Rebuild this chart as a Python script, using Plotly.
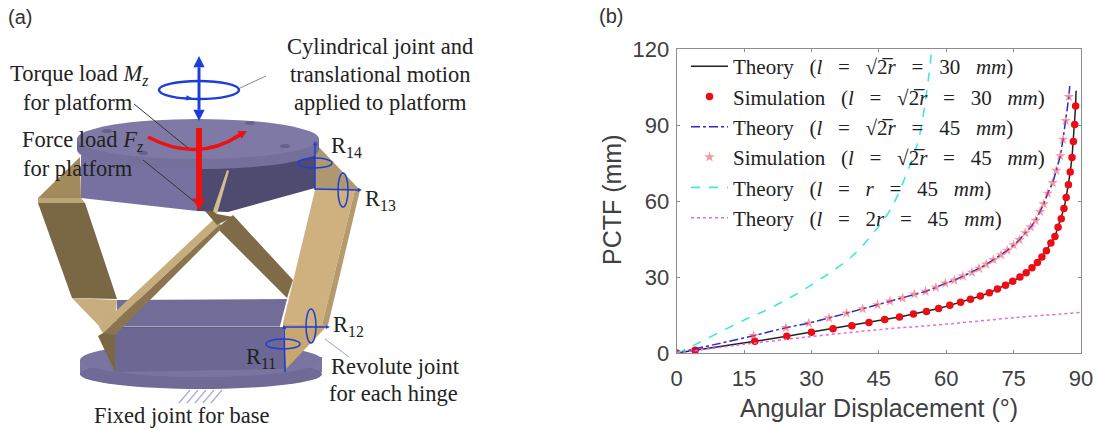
import math
import plotly.graph_objects as go

# panel (b) values
sim30_x = [0, 4.1, 17.4, 24.5, 30, 34.8, 39, 42.8, 46.3, 49.6, 52.7, 55.6, 58.3, 60.8, 63.2, 65.4, 67.6, 69.6,
           71.4, 73.2, 74.8, 76.4, 77.8, 79.1, 80.3, 81.3, 82.3, 83.3, 84.2, 84.9, 85.6, 86.2, 86.7, 87.2, 87.6,
           88, 88.3, 88.6, 88.8]
sim30_y = [0, 1.05, 4.6, 6.6, 8.2, 9.6, 10.8, 12, 13.2, 14.2, 15.4, 16.4, 17.6, 18.8, 20, 21.2, 22.5, 23.8,
           25.3, 26.7, 28.3, 30, 31.7, 33.7, 35.7, 37.9, 40.4, 43.4, 46, 49.6, 53, 57, 61.4, 66.4, 71.4,
           77.2, 83.5, 90.2, 97.5]
theory30_x = sim30_x + [88.9]
theory30_y = sim30_y + [103.5]

sim45_x = [0, 17.1, 24.3, 29.4, 33.9, 37.8, 41.4, 44.7, 47.5, 50.3, 52.9, 55.4, 57.7, 59.8, 61.8, 63.7, 65.7,
           67.3, 68.9, 70.5, 72.2, 73.6, 75, 76.3, 77.6, 78.8, 79.9, 80.9, 81.7, 82.6, 83.7, 84.5, 85.4, 86,
           86.6, 87.3]
sim45_y = [0, 6.8, 10, 11.8, 13.8, 15.7, 17.4, 19, 20.4, 21.7, 23.2, 24.3, 25.9, 27.5, 28.7, 30.3, 31.8,
           33.4, 35, 36.8, 38.7, 40.5, 42.6, 44.7, 47.4, 49.7, 52.3, 55.8, 58.8, 63, 67.2, 72, 77.8, 84.3,
           91.7, 101.2]
theory45_x = sim45_x + [87.5]
theory45_y = sim45_y + [105.4]

equal_x = [0, 2.6, 6.3, 15.6, 19.3, 26, 32.7, 38.6, 43, 47.5, 51.2, 53.8, 55.7, 56.7]
equal_y = [0, 2, 5.3, 13.5, 16.4, 22.6, 30, 37.5, 45.7, 56.4, 70.9, 84, 103.8, 118.3]
double_x = [0, 14, 30, 45, 60, 75, 90]
double_y = [0, 3.2, 6.5, 9.2, 11.4, 13.9, 16]

x_ticks = [0, 15, 30, 45, 60, 75, 90]
y_ticks = [0, 30, 60, 90, 120]

# the reference uses wide math spacing, so the gaps are widened with no-break spaces
GAP = "\u00a0\u00a0\u00a0"
legend_names = [
    f"Theory{GAP}(<i>l</i>{GAP}={GAP}√2̅<i>r</i>{GAP}={GAP}30{GAP}<i>mm</i>)",
    f"Simulation{GAP}(<i>l</i>{GAP}={GAP}√2̅<i>r</i>{GAP}={GAP}30{GAP}<i>mm</i>)",
    f"Theory{GAP}(<i>l</i>{GAP}={GAP}√2̅<i>r</i>{GAP}={GAP}45{GAP}<i>mm</i>)",
    f"Simulation{GAP}(<i>l</i>{GAP}={GAP}√2̅<i>r</i>{GAP}={GAP}45{GAP}<i>mm</i>)",
    f"Theory{GAP}(<i>l</i>{GAP}={GAP}<i>r</i>{GAP}={GAP}45{GAP}<i>mm</i>)",
    f"Theory{GAP}(<i>l</i>{GAP}={GAP}2<i>r</i>{GAP}={GAP}45{GAP}<i>mm</i>)",
]

# panel (a) drawing, outlines in page pixels
body_left = [(81, 150), (81, 198), (197, 211), (197, 150)]
body_right = [(197, 150), (197, 211), (228, 212), (315, 188), (315, 150)]
link_left_top = [(80, 157), (81, 198), (38, 198)]
link_left_band = [(38, 198), (81, 198), (85, 203), (38, 203)]
link_left = [(38, 203), (85, 203), (117, 299), (72, 298)]
link_left_low = [(72, 298), (117, 300), (115, 325), (100, 327)]
base_back = [(117, 300), (287, 299), (280, 326), (117, 326)]
base_front = [(115, 327), (283, 327), (286, 369), (115, 372)]
link_mid_dark = [(217, 228), (233, 215), (293, 280), (287, 298)]
link_mid_light = [(99, 327), (213, 220), (220, 224), (103, 333)]
link_mid_shade = [(103, 333), (220, 224), (222, 228), (115, 335)]
link_low_tip = [(98, 336), (115, 326), (115, 372)]
sliver = [(213, 211), (227, 170), (229, 171), (217, 214)]
sliver_dark = [(205, 211), (213, 211), (217, 214), (233, 217), (217, 225)]
link_right_top = [(315, 143), (360, 190), (315, 190)]
link_right = [(315, 190), (355, 190), (322, 325), (283, 323)]
link_right_edge = [(355, 190), (360, 190), (328, 325), (322, 325)]
link_right_low = [(283, 323), (328, 325), (286, 369)]
platform_holes = [(107, 131), (250, 123), (285, 146), (143, 153)]
labels_serif = [
    ("Cylindrical joint and", 380, 46), ("translational motion", 380, 74), ("applied to platform", 380, 102),
    ("Torque load <i>M<sub>z</sub></i>", 79, 75), ("for platform", 78, 102),
    ("Force load <i>F<sub>z</sub></i>", 82, 141), ("for platform", 78, 168),
    ("Fixed joint for base", 182, 415), ("Revolute joint", 395, 366), ("for each hinge", 393, 393),
    ("R<sub>14</sub>", 346, 147), ("R<sub>13</sub>", 380, 200), ("R<sub>12</sub>", 348, 326), ("R<sub>11</sub>", 261, 358),
]

fig = go.Figure()


def poly(points, color):
    path = "M " + " L ".join(f"{px} {py}" for px, py in points) + " Z"
    fig.add_shape(type="path", path=path, xref="x2", yref="y2", fillcolor=color, line=dict(width=0))


def line(x0, y0, x1, y1, color, width=1):
    fig.add_shape(type="line", xref="x2", yref="y2", x0=x0, y0=y0, x1=x1, y1=y1, line=dict(color=color, width=width))


def ellipse(cx, cy, rx, ry, fill=None, edge=None, width=2):
    fig.add_shape(type="circle", xref="x2", yref="y2", x0=cx - rx, x1=cx + rx, y0=cy - ry, y1=cy + ry,
                  fillcolor=fill, line=dict(color=edge, width=width if edge else 0))


def arrow(x0, y0, x1, y1, color, width=2, head=7):
    # shaft plus a filled triangle at the x1, y1 end
    angle = math.atan2(y1 - y0, x1 - x0)
    bx, by = x1 - head * 1.4 * math.cos(angle), y1 - head * 1.4 * math.sin(angle)
    line(x0, y0, bx, by, color, width)
    nx, ny = -math.sin(angle) * head * 0.7, math.cos(angle) * head * 0.7
    poly([(x1, y1), (bx + nx, by + ny), (bx - nx, by - ny)], color)


# main chart
fig.add_trace(go.Scatter(x=theory30_x, y=theory30_y, mode="lines", name=legend_names[0],
                         line=dict(color="#222222", width=1.5)))
fig.add_trace(go.Scatter(x=sim30_x, y=sim30_y, mode="markers", name=legend_names[1],
                         marker=dict(color="#ee0c14", size=7.5)))
fig.add_trace(go.Scatter(x=theory45_x, y=theory45_y, mode="lines", name=legend_names[2],
                         line=dict(color="#2a2ad8", width=1.5, dash="dashdot")))
fig.add_trace(go.Scatter(x=sim45_x, y=sim45_y, mode="markers", name=legend_names[3],
                         marker=dict(color="rgba(240,70,80,0.55)", size=8, symbol="star")))
fig.add_trace(go.Scatter(x=equal_x, y=equal_y, mode="lines", name=legend_names[4],
                         line=dict(color="#3fe6e6", width=1.6, dash="dash", shape="spline")))
fig.add_trace(go.Scatter(x=double_x, y=double_y, mode="lines", name=legend_names[5],
                         line=dict(color="#e868e0", width=1.5, dash="dot", shape="spline")))

# hidden trace keeps the page-pixel axes alive for the drawing
fig.add_trace(go.Scatter(x=[0], y=[0], xaxis="x2", yaxis="y2", mode="markers", marker=dict(opacity=0),
                         showlegend=False, hoverinfo="skip"))

# base plate
poly([(80, 360), (80, 375), (322, 372), (322, 357)], "#7d78a3")
ellipse(201, 374, 121, 15, fill="#6f6a96")
ellipse(201, 360, 121, 17, fill="#7a75a0")
for item, color in [(base_back, "#716c98"), (base_front, "#6c6793")]:
    poly(item, color)
line(115, 327, 280, 327, "#55517a", 1)

# links
for item, color in [(link_left_top, "#a38a5c"), (link_left_band, "#bba475"), (link_left, "#7a6744"),
                    (link_left_low, "#c8ae7e"), (link_low_tip, "#7a6744"), (link_mid_dark, "#7f6b47"),
                    (link_mid_light, "#c7ad7c"), (link_mid_shade, "#8a7550"), (link_right_low, "#c8a670")]:
    poly(item, color)

# platform
poly(body_left, "#7671a0")
poly(body_right, "#4f4b70")
for item, color in [(sliver_dark, "#7a6744"), (sliver, "#d4bc8c"), (link_right_top, "#ad9870"),
                    (link_right, "#cfb17f"), (link_right_edge, "#b59a6c")]:
    poly(item, color)
poly([(77, 138), (77, 150), (319, 150), (319, 138)], "#6f6a95")
ellipse(198, 150, 121, 19, fill="#75709b")
ellipse(198, 139, 121, 20, fill="#7f7aa5")
for hx, hy in platform_holes:
    ellipse(hx, hy, 5, 2, fill="#67628c")

# hatch under the base
for hx in (180, 188, 196, 204, 212):
    line(hx - 1, 403, hx + 10, 390, "#a9a8d4", 1.2)

# leader lines
line(240, 88, 266, 76, "#888888")
line(134, 104, 188, 148, "#333333")
line(143, 160, 195, 202, "#333333")
line(349, 357, 325, 339, "#9aa0c8")

# blue joint marks
BLUE = "#1c3ed6"
ellipse(199, 90, 40, 9, edge=BLUE, width=2.5)
arrow(199, 90, 199, 56, BLUE, 3, 8)
arrow(199, 90, 199, 121, BLUE, 3, 8)
arrow(180, 98, 192, 98, BLUE, 1.5, 4)
ellipse(315, 163, 17, 5, edge=BLUE, width=1.5)
ellipse(343, 190, 5, 17, edge=BLUE, width=1.5)
ellipse(283, 344, 17, 5, edge=BLUE, width=1.5)
ellipse(311, 326, 5, 17, edge=BLUE, width=1.5)
arrow(315, 190, 315, 141, BLUE, 1.5, 3)
arrow(315, 189, 362, 190, BLUE, 1.5, 3)
arrow(285, 372, 284, 325, BLUE, 1.5, 3)
arrow(283, 327, 330, 327, BLUE, 1.5, 3)

# red loads
fig.add_shape(type="path", path="M 148 137 Q 197 163 240 135", xref="x2", yref="y2",
              line=dict(color="#ee1111", width=3.5))
arrow(234, 138, 247, 131, "#ee1111", 3.5, 6)
arrow(199, 128, 199, 211, "#ee1111", 6, 9)

for text, tx, ty in labels_serif:
    fig.add_annotation(xref="x2", yref="y2", x=tx, y=ty, text=text, showarrow=False,
                       font=dict(family="Liberation Serif", size=22.5, color="#222222"))
fig.add_annotation(xref="x2", yref="y2", x=19.5, y=17, text="(a)", showarrow=False,
                   font=dict(family="Liberation Sans", size=20, color="#333333"))
fig.add_annotation(xref="x2", yref="y2", x=611, y=16, text="(b)", showarrow=False,
                   font=dict(family="Liberation Sans", size=20, color="#333333"))

# axis titles placed by hand, plotly has no offset for them without automargin
title_font = dict(family="Liberation Sans", size=25, color="#404040")
fig.add_annotation(xref="x2", yref="y2", x=879, y=408, text="Angular Displacement (°)", showarrow=False, font=title_font)
fig.add_annotation(xref="x2", yref="y2", x=612, y=200, text="PCTF (mm)", textangle=-90, showarrow=False, font=title_font)

axis_style = dict(showgrid=False, zeroline=False, showline=True, linecolor="#8c8c8c", linewidth=1.2, mirror="ticks",
                  ticks="inside", ticklen=3, tickcolor="#8c8c8c", automargin=False,
                  tickfont=dict(family="Liberation Sans", size=22, color="#404040"))

fig.update_layout(
    width=1103, height=429, margin=dict(l=0, r=0, t=0, b=0), paper_bgcolor="white", plot_bgcolor="rgba(0,0,0,0)",
    xaxis=dict(domain=[676.7 / 1103, 1081 / 1103], range=[0, 90], tickvals=x_ticks, ticklabelstandoff=5, **axis_style),
    yaxis=dict(domain=[1 - 353 / 429, 1 - 49 / 429], range=[0, 120], tickvals=y_ticks, ticklabelstandoff=2, **axis_style),
    xaxis2=dict(domain=[0, 1], range=[0, 1103], visible=False, anchor="y2", fixedrange=True),
    yaxis2=dict(domain=[0, 1], range=[429, 0], visible=False, anchor="x2", fixedrange=True),
    legend=dict(x=686 / 1103, y=1 - 46 / 429, xanchor="left", yanchor="top", bgcolor="rgba(0,0,0,0)", itemwidth=37,
                font=dict(family="Liberation Serif", size=21, color="#222222")),
)

fig.write_html("out.html", config=dict(displayModeBar=False), post_script="document.body.style.margin='0';")
